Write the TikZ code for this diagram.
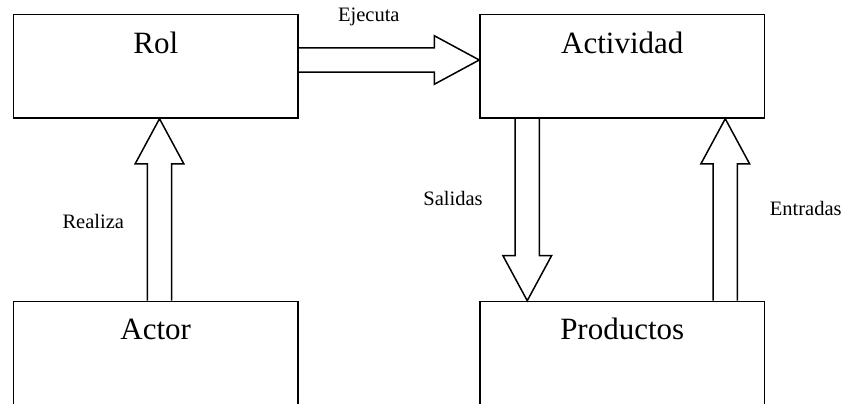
\documentclass[tikz,border=0pt]{standalone}
\usepackage{fontspec}
\setmainfont{Liberation Serif}
\usetikzlibrary{calc}

% hollow block arrow from a tail point to a tip point
\newcommand\blockarrow[2]{%
  \path ($(#2)!45pt!(#1)$) coordinate (hb);
  \draw[barrow] ($(#1)!12.2pt!90:(#2)$) -- ($(hb)!12.2pt!90:(#2)$)
    -- ($(hb)!24.3pt!90:(#2)$) -- (#2) -- ($(hb)!24.3pt!-90:(#2)$)
    -- ($(hb)!12.2pt!-90:(#2)$) -- ($(#1)!12.2pt!-90:(#2)$);
}

\tikzset{
  box/.style={draw, line width=1.5pt, minimum width=284.5pt, minimum height=103.5pt, inner sep=0pt},
  boxtext/.style={anchor=base, inner sep=0pt, font=\fontsize{31}{37}\selectfont},
  flowtext/.style={anchor=base, inner sep=0pt, font=\fontsize{20.5}{24}\selectfont},
  barrow/.style={line width=1.5pt, line join=miter}
}

\begin{document}
\begin{tikzpicture}[x=1pt, y=-1pt]
  \useasboundingbox (0,0) rectangle (846,404);

  % boxes
  \node[box] (rol) at (155.75,66.25) {};
  \node[box] (act) at (622.25,66.25) {};
  \node[box] (actor) at (155.75,353.2) {};
  \node[box] (prod) at (622.25,353.2) {};

  % box titles
  \node[boxtext] (rolT) at ($(rol.north)+(0,39.5)$) {Rol};
  \node[boxtext] (actT) at ($(act.north)+(0,39.5)$) {Actividad};
  \node[boxtext] (actorT) at ($(actor.north)+(0,39)$) {Actor};
  \node[boxtext] (prodT) at ($(prod.north)+(0,39)$) {Productos};

  % arrow end points
  \coordinate (ejA) at ($(rol.east)+(0,-6.25)$);
  \coordinate (ejB) at ($(act.west)+(0,-6.25)$);
  \coordinate (reA) at ($(actor.north)+(3.75,0)$);
  \coordinate (reB) at ($(rol.south)+(3.75,0)$);
  \coordinate (saA) at ($(act.south)+(-95,0)$);
  \coordinate (saB) at ($(prod.north)+(-95,0)$);
  \coordinate (enA) at ($(prod.north)+(103,0)$);
  \coordinate (enB) at ($(act.south)+(103,0)$);

  % block arrows
  \blockarrow{ejA}{ejB}
  \blockarrow{reA}{reB}
  \blockarrow{saA}{saB}
  \blockarrow{enA}{enB}

  % arrow labels
  \node[flowtext] (ejL) at (368.8,21.7) {Ejecuta};
  \node[flowtext] (reL) at (93.3,228) {Realiza};
  \node[flowtext] (saL) at (453,205) {Salidas};
  \node[flowtext] (enL) at (805.7,215) {Entradas};
\end{tikzpicture}
\end{document}
